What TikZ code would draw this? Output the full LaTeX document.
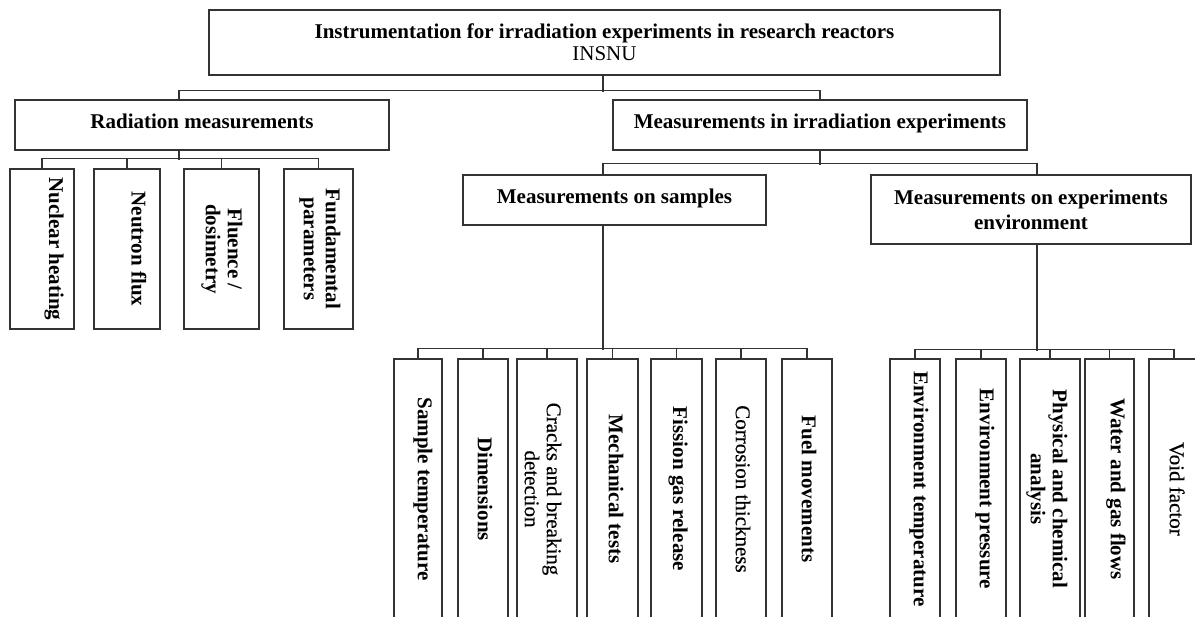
\documentclass[tikz,border=0pt]{standalone}
\usepackage{fontspec}
\setmainfont{Liberation Serif}
\newfontfamily\medserif{Liberation Serif}[FakeBold=0.4]
\begin{document}
\begin{tikzpicture}[x=1pt,y=-1pt,
  box/.style={draw=black!80, line width=1.2pt, inner sep=0pt},
  hbox/.style={box, font=\fontsize{21}{24}\selectfont\bfseries, align=center},
  hone/.style={hbox, text height=14pt, text depth=7pt},
  ln/.style={draw=black!80, line width=1.2pt},
  vb/.style={rotate=-90, font=\fontsize{21}{22}\selectfont\bfseries, align=center, inner sep=0pt},
  vr/.style={rotate=-90, font=\fontsize{21}{22}\selectfont\medserif, align=center, inner sep=0pt}]
\useasboundingbox (0,0) rectangle (1195,617);
\clip (0,0) rectangle (1195,617);

% top levels
\node[box, minimum width=791pt, minimum height=65pt, align=center, font=\fontsize{21}{22}\selectfont] (top) at (604.5,42.5)
  {\textbf{Instrumentation for irradiation experiments in research reactors}\\INSNU};
\node[hone, minimum width=374pt, minimum height=50pt] (rad) at (202,125) {Radiation measurements};
\node[hone, minimum width=414pt, minimum height=50pt] (irr) at (820,125) {Measurements in irradiation experiments};
\node[hone, minimum width=303pt, minimum height=50pt] (samp) at (614.5,200) {Measurements on samples};
\node[hbox, minimum width=320pt, minimum height=69pt, font=\fontsize{21}{25}\selectfont\bfseries] (env) at (1031,209.5) {Measurements on experiments\\environment};

% radiation children
\node[box, minimum width=64pt, minimum height=160pt] (nh) at (42,249) {};
\node[box, minimum width=66pt, minimum height=160pt] (nf) at (127,249) {};
\node[box, minimum width=75pt, minimum height=160pt] (fd) at (221.5,249) {};
\node[box, minimum width=69pt, minimum height=160pt] (fp) at (318.5,249) {};
\node[vb] (tnh) at (54,249) {Nuclear heating};
\node[vb] (tnf) at (139,249) {Neutron flux};
\node[vb] (tfd) at (222,249) {Fluence /\\dosimetry};
\node[vb] (tfp) at (320,249) {Fundamental\\parameters};

% sample children
\node[box, minimum width=48pt, minimum height=261pt] (st) at (418,489.5) {};
\node[box, minimum width=50pt, minimum height=261pt] (dm) at (483,489.5) {};
\node[box, minimum width=60pt, minimum height=261pt] (cb) at (547,489.5) {};
\node[box, minimum width=51pt, minimum height=261pt] (mt) at (612.5,489.5) {};
\node[box, minimum width=51pt, minimum height=261pt] (fg) at (676.5,489.5) {};
\node[box, minimum width=50pt, minimum height=261pt] (ct) at (741,489.5) {};
\node[box, minimum width=50pt, minimum height=261pt] (fm) at (807,489.5) {};
\node[vb] (tst) at (423,489) {Sample temperature};
\node[vb] (tdm) at (485,489) {Dimensions};
\node[vr] (tcb) at (543,489) {Cracks and breaking\\detection};
\node[vb] (tmt) at (616,489) {Mechanical tests};
\node[vb] (tfg) at (678,489) {Fission gas release};
\node[vr] (tct) at (743,489) {Corrosion thickness};
\node[vb] (tfm) at (809,489) {Fuel movements};

% environment children
\node[box, minimum width=50pt, minimum height=261pt] (et) at (915,489.5) {};
\node[box, minimum width=50pt, minimum height=261pt] (ep) at (981,489.5) {};
\node[box, minimum width=60pt, minimum height=261pt] (pc) at (1050,489.5) {};
\node[box, minimum width=49pt, minimum height=261pt] (wg) at (1109.5,489.5) {};
\node[box, minimum width=50pt, minimum height=261pt] (vf) at (1174,489.5) {};
\node[vb] (tet) at (919,489) {Environment temperature};
\node[vb] (tep) at (985,489) {Environment pressure};
\node[vb] (tpc) at (1047,489) {Physical and chemical\\analysis};
\node[vb] (twg) at (1116,489) {Water and gas flows};
\node[vr] (tvf) at (1177,489) {Void factor};

% connectors: top level
\draw[ln] ([xshift=-1.5pt]top.south) -- ++(0,16);
\draw[ln] ([xshift=-23pt]rad.north) -- ++(0,-9) -| (irr.north);
% radiation group
\draw[ln] ([xshift=-23pt]rad.south) -- ++(0,9);
\draw[ln] (nh.north) -- ++(0,-10) -| (fp.north);
\foreach \n in {nf,fd} \draw[ln] (\n.north) -- ++(0,-10);
% irradiation group
\draw[ln] (irr.south) -- ++(0,14);
\draw[ln] ([xshift=-11.5pt]samp.north) -- ++(0,-11) -| ([xshift=6pt]env.north);
% samples group
\draw[ln] ([xshift=-11.5pt]samp.south) -- ++(0,124);
\draw[ln] (st.north) -- ++(0,-10) -| (fm.north);
\foreach \n in {dm,cb,mt,fg,ct} \draw[ln] (\n.north) -- ++(0,-10);
% environment group
\draw[ln] ([xshift=6pt]env.south) -- ++(0,106);
\draw[ln] (et.north) -- ++(0,-9) -| (vf.north);
\foreach \n in {ep,pc,wg} \draw[ln] (\n.north) -- ++(0,-9);
\end{tikzpicture}
\end{document}
